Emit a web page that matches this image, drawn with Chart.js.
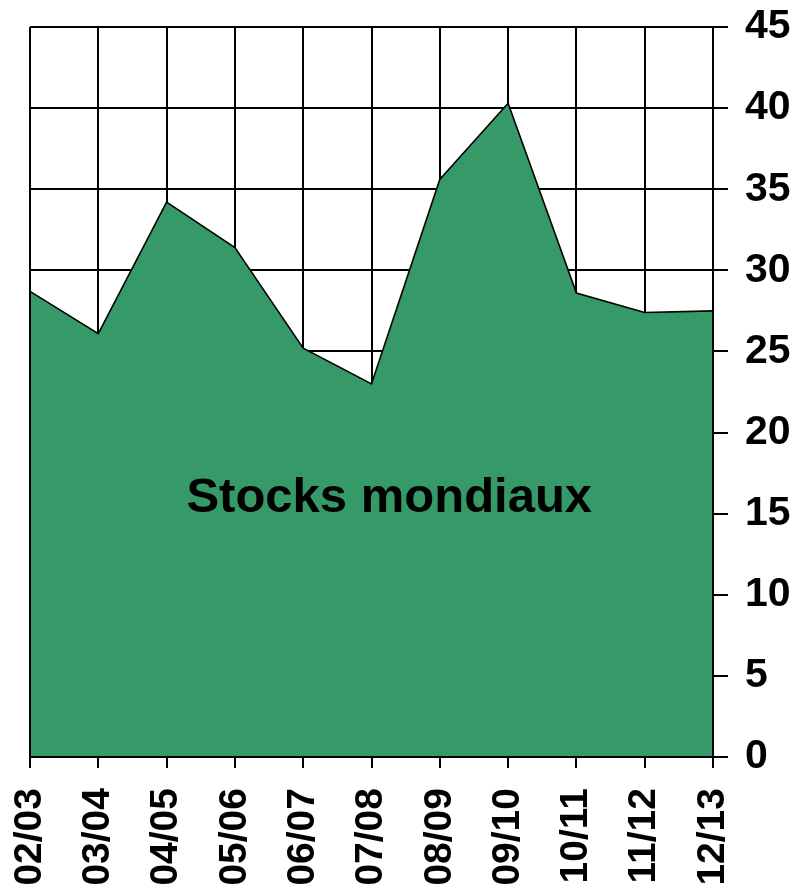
<!DOCTYPE html>
<html>
<head>
<meta charset="utf-8">
<script src="https://cdn.jsdelivr.net/npm/chart.js@4/dist/chart.umd.min.js"></script>
<style>
  html, body { margin: 0; padding: 0; background: #fff; }
  #wrap { width: 802px; height: 886px; position: relative; }
</style>
</head>
<body>
<div id="wrap"><canvas id="c"></canvas></div>
<script>
// ---- data ----
const seasons = ['02/03','03/04','04/05','05/06','06/07','07/08','08/09','09/10','10/11','11/12','12/13'];
const stocks = [28.7, 26.1, 34.2, 31.4, 25.2, 23.0, 35.6, 40.3, 28.6, 27.4, 27.5];
const yMin = 0, yMax = 45, yStep = 5;
const areaLabel = 'Stocks mondiaux';
const areaLabelPos = { x: 5.26, y: 15.1 };

const FONT = '"Liberation Sans", Arial, Helvetica, sans-serif';
const GREEN = '#359a67';

const framePlugin = {
  id: 'frameAndLabel',
  afterDatasetsDraw(chart) {
    const { ctx, chartArea, scales } = chart;
    ctx.save();
    ctx.strokeStyle = '#000';
    ctx.lineWidth = 2;
    ctx.beginPath();
    ctx.moveTo(chartArea.left, chartArea.top);
    ctx.lineTo(chartArea.left, chartArea.bottom);
    ctx.stroke();
    ctx.font = 'bold 49px ' + FONT;
    ctx.fillStyle = '#000';
    ctx.textAlign = 'center';
    ctx.textBaseline = 'alphabetic';
    ctx.fillText(areaLabel, scales.x.getPixelForValue(areaLabelPos.x), scales.y.getPixelForValue(areaLabelPos.y));
    ctx.restore();
  }
};

new Chart(document.getElementById('c'), {
  type: 'line',
  data: {
    labels: seasons,
    datasets: [{
      data: stocks,
      fill: 'origin',
      backgroundColor: GREEN,
      borderColor: '#000',
      borderWidth: 1.6,
      pointRadius: 0,
      tension: 0
    }]
  },
  options: {
    responsive: true,
    maintainAspectRatio: false,
    animation: false,
    layout: { padding: { top: 27, left: 30, right: 0, bottom: 0 } },
    plugins: { legend: { display: false }, tooltip: { enabled: false } },
    scales: {
      x: {
        offset: false,
        grid: { color: '#000', lineWidth: 2, tickLength: 11, drawTicks: true },
        border: { display: true, color: '#000', width: 2, z: 1 },
        ticks: {
          autoSkip: false, minRotation: 90, maxRotation: 90, padding: 20,
          color: '#000', font: { family: FONT, size: 39, weight: 'bold' }
        },
        afterFit(scale) { scale.height = 129; scale.paddingLeft = 0; scale.paddingRight = 0; }
      },
      y: {
        position: 'right',
        min: yMin, max: yMax,
        grid: { color: '#000', lineWidth: 2, tickLength: 15, drawTicks: true },
        border: { display: true, color: '#000', width: 2, z: 1 },
        ticks: {
          stepSize: yStep, padding: 17,
          color: '#000', font: { family: FONT, size: 41, weight: 'bold' }
        },
        afterFit(scale) { scale.width = 89; scale.paddingTop = 0; scale.paddingBottom = 0; }
      }
    }
  },
  plugins: [framePlugin]
});
</script>
</body>
</html>
